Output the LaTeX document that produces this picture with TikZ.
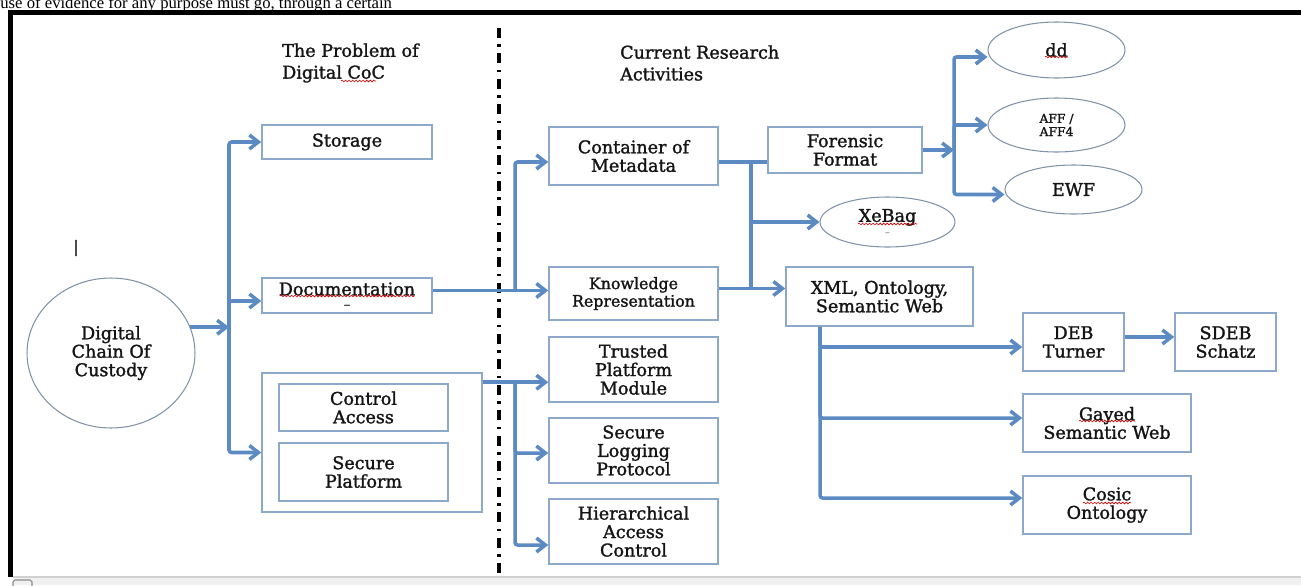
\documentclass[tikz,border=0pt]{standalone}
\usepackage{fontspec}
\setmainfont{DejaVu Serif}[FakeBold=1.5]
\newfontfamily\pagefont{Liberation Serif}
\usetikzlibrary{arrows.meta,shapes.geometric,decorations.pathmorphing}
\definecolor{flowblue}{RGB}{92,138,194}
\definecolor{boxedge}{RGB}{140,168,202}
\definecolor{ringedge}{RGB}{128,146,170}
\definecolor{inktext}{RGB}{20,20,20}

\begin{document}
\begin{tikzpicture}[x=0.02cm, y=-0.02cm, font=\fontsize{10}{10.5}\selectfont, text=inktext,
    boxnode/.style={draw=boxedge, line width=0.9pt, rectangle, align=center, inner sep=1pt},
    ovalnode/.style={draw=ringedge, line width=0.6pt, ellipse, align=center, inner sep=0pt},
    flow/.style={draw=flowblue, line width=2pt, rounded corners=1.5pt},
    arr/.style={flow, -{Straight Barb[length=0.18cm,width=0.28cm]}},
    spell/.style={red!85!black, line width=0.35pt, decorate, decoration={snake, amplitude=0.5pt, segment length=2pt}},
    divider/.style={line width=2.2pt, dash pattern=on 0.2cm off 0.13cm on 0.05cm off 0.13cm}]
    \useasboundingbox (0,0) rectangle (1301,585);
    \node[font=\pagefont\fontsize{9.5}{9.5}\selectfont, text=black, anchor=base west, inner sep=0pt] (pagetext) at (0,8) {use of evidence for any purpose must go, through a certain};
    \fill[black]                               (8,10)  rectangle (1301,15);
    \fill[black]                               (8,10)  rectangle (13,577);
    \fill[black!6]                             (13,577) rectangle (1301,585);
    \draw[black!18, line width=0.6pt]          (13,577) -- (1301,577);
    \draw[black!45, line width=0.6pt, rounded corners=1pt] (13,580) rectangle (32,592);
    \node[inner sep=0pt, font=\fontsize{9}{9}\selectfont, text=black] (caret) at (76,248) {|};

    \node[anchor=west, align=left, font=\fontsize{10}{12.4}\selectfont] (probhead) at (276,63) {The Problem of\\Digital CoC};
    \node[anchor=west, align=left, font=\fontsize{10}{12.4}\selectfont] (reshead)  at (614,63) {Current Research\\Activities};
    \coordinate (divtop) at (499,28);
    \coordinate (divbot) at (499,575);
    \draw[divider] (divtop) -- (divbot);

    % problem side
    \node[ovalnode, minimum width=3.36cm, minimum height=3cm]   (coc)     at (111,353)   {Digital\\Chain Of\\Custody};
    \node[boxnode, minimum width=3.4cm, minimum height=0.68cm]  (storage) at (347,142)   {Storage};
    \node[boxnode, minimum width=3.4cm, minimum height=0.7cm]   (docu)    at (347,295.5) {Documentation\\[-3pt]{\scriptsize --}};
    \node[boxnode, minimum width=4.4cm, minimum height=2.78cm]  (secbox)  at (372,442.5) {};
    \node[boxnode, minimum width=3.38cm, minimum height=0.94cm] (ctrl)    at (363.5,407.5) {Control\\Access};
    \node[boxnode, minimum width=3.38cm, minimum height=1.16cm] (secplat) at (363.5,472)   {Secure\\Platform};

    % research side
    \node[boxnode, minimum width=3.38cm, minimum height=1.16cm] (contain)  at (633.5,156)   {Container of\\Metadata};
    \node[boxnode, minimum width=3.38cm, minimum height=1.06cm, font=\fontsize{9}{10}\selectfont] (know) at (633.5,293.5) {Knowledge\\Representation};
    \node[boxnode, minimum width=3.38cm, minimum height=1.3cm]  (tpm)      at (633.5,369.5) {Trusted\\Platform\\Module};
    \node[boxnode, minimum width=3.38cm, minimum height=1.3cm]  (slp)      at (633.5,450.5) {Secure\\Logging\\Protocol};
    \node[boxnode, minimum width=3.38cm, minimum height=1.3cm]  (hac)      at (633.5,531.5) {Hierarchical\\Access\\Control};
    \node[boxnode, minimum width=3.08cm, minimum height=0.92cm] (forensic) at (845,150)     {Forensic\\Format};
    \node[ovalnode, minimum width=2.7cm, minimum height=1cm]    (xebag)    at (887.5,222)   {XeBag\\[-3pt]{\color{black!40}\tiny --}};
    \node[boxnode, minimum width=3.74cm, minimum height=1.18cm] (xml)      at (879.5,296.5) {XML, Ontology,\\Semantic Web};
    \node[ovalnode, minimum width=2.74cm, minimum height=1.12cm] (dd)      at (1056.5,50)   {dd};
    \node[ovalnode, minimum width=2.74cm, minimum height=1.08cm, font=\fontsize{7}{7.5}\selectfont] (aff) at (1056.5,125) {AFF /\\AFF4};
    \node[ovalnode, minimum width=2.74cm, minimum height=0.98cm] (ewf)     at (1073.5,189.5) {EWF};
    \node[boxnode, minimum width=2.02cm, minimum height=1.16cm] (deb)      at (1073.5,342)  {DEB\\Turner};
    \node[boxnode, minimum width=2.02cm, minimum height=1.16cm] (sdeb)     at (1225.5,342)  {SDEB\\Schatz};
    \node[boxnode, minimum width=3.36cm, minimum height=1.16cm] (gayed)    at (1107,423)    {Gayed\\Semantic Web};
    \node[boxnode, minimum width=3.36cm, minimum height=1.16cm] (cosic)    at (1107,505)    {Cosic\\Ontology};

    % spelling marks
    \draw[spell] (341,81)   -- (376,81);
    \draw[spell] (280,296)  -- (414,296);
    \draw[spell] (858,224)  -- (917,224);
    \draw[spell] (1045,57)  -- (1068,57);
    \draw[spell] (1079,421) -- (1135,421);
    \draw[spell] (1083,503) -- (1131,503);

    \coordinate (trunk) at (229,0);
    \coordinate (fork1) at (515,0);
    \coordinate (fork2) at (751,0);
    \coordinate (fork3) at (954,0);
    \coordinate (fork4) at (820,0);

    \draw[arr] (coc.18) -- (coc.18 -| trunk);
    \draw[arr] (coc.18 -| trunk) |- (storage);
    \draw[arr] (coc.18 -| trunk) |- ([yshift=-0.11cm]docu.west);
    \draw[arr] (coc.18 -| trunk) |- ([yshift=-0.2cm]secbox.west);

    \draw[arr] ([yshift=0.1cm]docu.east) -- ([yshift=0.1cm]docu.east -| know.west);
    \draw[arr] ([yshift=0.1cm]docu.east -| fork1) |- ([yshift=-0.12cm]contain.west);
    \draw[arr] ([yshift=-0.2cm]secbox.north east) -- ([yshift=-0.2cm]secbox.north east -| tpm.west);
    \draw[arr] ([yshift=-0.2cm]secbox.north east -| fork1) |- ([yshift=-0.05cm]slp.west);
    \draw[arr] ([yshift=-0.2cm]secbox.north east -| fork1) |- ([yshift=-0.27cm]hac.west);

    \draw[flow] ([yshift=-0.12cm]contain.east) -- ([yshift=-0.12cm]contain.east -| forensic.west);
    \draw[flow] ([yshift=-0.12cm]contain.east -| fork2) -- ([yshift=0.1cm]know.east -| fork2);
    \draw[arr] ([yshift=-0.12cm]contain.east -| fork2) |- (xebag);
    \draw[arr] ([yshift=0.1cm]know.east) -- ([yshift=0.1cm]know.east -| xml.west);

    \draw[arr] (forensic) -- (forensic -| fork3);
    \draw[arr] (forensic -| fork3) |- ([yshift=-0.14cm]dd.west);
    \draw[arr] (forensic -| fork3) |- (aff);
    \draw[arr] (forensic -| fork3) |- ([yshift=-0.1cm]ewf.west);

    \draw[arr] (xml.south -| fork4) |- ([yshift=-0.1cm]deb.west);
    \draw[arr] (xml.south -| fork4) |- ([yshift=0.1cm]gayed.west);
    \draw[arr] (xml.south -| fork4) |- ([yshift=0.14cm]cosic.west);
    \draw[arr] ([yshift=0.1cm]deb.east) -- ([yshift=0.1cm]sdeb.west);
\end{tikzpicture}
\end{document}
